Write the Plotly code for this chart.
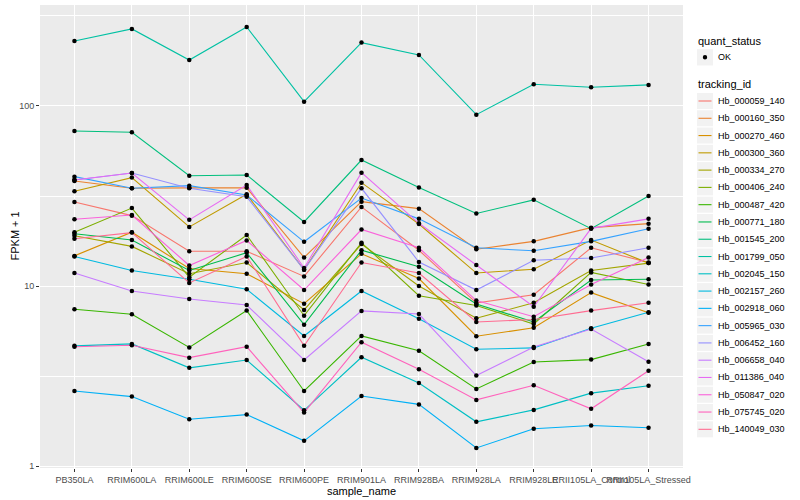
import plotly.graph_objects as go

samples = ["PB350LA", "RRIM600LA", "RRIM600LE", "RRIM600SE", "RRIM600PE",
           "RRIM901LA", "RRIM928BA", "RRIM928LA", "RRIM928LE",
           "RRII105LA_Control", "RRII105LA_Stressed"]

tracking_ids = ["Hb_000059_140", "Hb_000160_350", "Hb_000270_460", "Hb_000300_360",
                "Hb_000334_270", "Hb_000406_240", "Hb_000487_420", "Hb_000771_180",
                "Hb_001545_200", "Hb_001799_050", "Hb_002045_150", "Hb_002157_260",
                "Hb_002918_060", "Hb_005965_030", "Hb_006452_160", "Hb_006658_040",
                "Hb_011386_040", "Hb_050847_020", "Hb_075745_020", "Hb_140049_030"]

hb_000059_140 = [29.3, 24.6, 15.6, 15.6, 11.3, 27.5, 15.8, 8.05, 8.95, 16.3, 13.5]
hb_000160_350 = [38.3, 34.9, 35.1, 35.1, 14.4, 29.4, 26.9, 16.0, 17.7, 21.1, 22.2]
hb_000270_460 = [14.7, 19.9, 12.5, 11.7, 7.98, 15.1, 11.0, 5.26, 5.86, 9.19, 7.11]
hb_000300_360 = [33.6, 40.0, 21.3, 32.3, 12.3, 37.5, 22.1, 11.8, 12.4, 18.0, 13.4]
hb_000334_270 = [19.0, 16.6, 11.7, 13.5, 7.36, 17.1, 10.0, 6.62, 8.07, 12.2, 13.4]
hb_000406_240 = [19.9, 27.1, 11.2, 19.2, 6.84, 17.4, 8.83, 7.79, 6.15, 11.9, 10.2]
hb_000487_420 = [7.43, 6.97, 4.56, 7.30, 2.61, 5.28, 4.37, 2.68, 3.78, 3.90, 4.76]
hb_000771_180 = [19.5, 18.0, 12.2, 15.3, 6.10, 15.8, 12.8, 7.94, 6.31, 10.8, 10.9]
hb_001545_200 = [72.6, 71.5, 41.0, 41.4, 22.7, 50.1, 35.3, 25.3, 30.1, 20.8, 31.6]
hb_001799_050 = [229.7, 268.0, 180.0, 275.0, 105.7, 225.0, 192.0, 89.5, 132.0, 127.0, 131.0]
hb_002045_150 = [4.65, 4.77, 3.51, 3.88, 2.04, 4.02, 2.89, 1.76, 2.05, 2.54, 2.79]
hb_002157_260 = [14.6, 12.2, 10.9, 9.59, 5.28, 9.38, 6.58, 4.45, 4.53, 5.82, 7.14]
hb_002918_060 = [2.61, 2.43, 1.82, 1.93, 1.38, 2.45, 2.20, 1.26, 1.61, 1.68, 1.63]
hb_005965_030 = [40.5, 34.9, 36.1, 32.0, 17.6, 30.8, 23.6, 16.3, 15.7, 17.7, 20.8]
hb_006452_160 = [38.8, 42.4, 34.9, 31.3, 12.3, 34.9, 13.6, 9.5, 13.9, 14.3, 16.3]
hb_006658_040 = [11.8, 9.38, 8.47, 7.84, 3.88, 7.27, 6.99, 3.18, 4.58, 5.77, 3.80]
hb_011386_040 = [38.8, 42.4, 23.3, 36.4, 12.6, 42.6, 22.3, 13.1, 7.67, 20.9, 23.6]
hb_050847_020 = [23.5, 24.8, 13.0, 17.9, 9.50, 20.6, 16.3, 8.30, 6.75, 10.2, 14.4]
hb_075745_020 = [4.60, 4.69, 4.00, 4.60, 1.98, 4.87, 3.45, 2.33, 2.81, 2.08, 3.38]
hb_140049_030 = [18.3, 19.8, 10.4, 14.6, 4.65, 13.5, 11.8, 6.31, 6.52, 7.30, 8.07]

series_values = [hb_000059_140, hb_000160_350, hb_000270_460, hb_000300_360,
                 hb_000334_270, hb_000406_240, hb_000487_420, hb_000771_180,
                 hb_001545_200, hb_001799_050, hb_002045_150, hb_002157_260,
                 hb_002918_060, hb_005965_030, hb_006452_160, hb_006658_040,
                 hb_011386_040, hb_050847_020, hb_075745_020, hb_140049_030]

colors = ["#F8766D", "#EA8331", "#D89000", "#C09B00", "#A3A500", "#7CAE00",
          "#39B600", "#00BB4E", "#00BF7D", "#00C1A3", "#00BFC4", "#00BAE0",
          "#00B0F6", "#35A2FF", "#9590FF", "#C77CFF", "#E76BF3", "#FA62DB",
          "#FF62BC", "#FF6C91"]

FONT = "Liberation Sans, Arial, Helvetica, sans-serif"

# plot-area geometry in pixels (for legend / title placement)
W, H = 800, 500
ML, MR, MT, MB = 40, 117, 5, 32
PW, PH = W - ML - MR, H - MT - MB


def px(xp):
    return (xp - ML) / PW


def py(yp):
    return (H - MB - yp) / PH


fig = go.Figure()

for name, vals, col in zip(tracking_ids, series_values, colors):
    fig.add_trace(go.Scatter(
        x=samples, y=vals, mode="lines", name=name,
        line=dict(color=col, width=1.1),
        showlegend=False, hoverinfo="skip",
    ))

all_x = [s for vals in series_values for s in samples]
all_y = [v for vals in series_values for v in vals]
fig.add_trace(go.Scatter(
    x=all_x, y=all_y, mode="markers", name="OK",
    marker=dict(color="black", size=4.5), showlegend=False,
))

# custom ggplot-style legend
shapes = []
annotations = []
KEY_X0, KEY_X1 = 697, 713
TEXT_X = 716
TITLE_X = 696
annotations.append(dict(x=px(TITLE_X), y=py(40.7), xref="paper", yref="paper",
                        text="quant_status", showarrow=False, xanchor="left",
                        yanchor="middle", font=dict(size=11, color="black")))
shapes.append(dict(type="rect", xref="paper", yref="paper",
                   x0=px(KEY_X0), x1=px(KEY_X1), y0=py(49.2), y1=py(65.5),
                   fillcolor="#F2F2F2", line=dict(width=0), layer="above"))
shapes.append(dict(type="circle", xref="paper", yref="paper",
                   x0=px(702.8), x1=px(707.2), y0=py(55.1), y1=py(59.5),
                   fillcolor="black", line=dict(width=0), layer="above"))
annotations.append(dict(x=px(TEXT_X), y=py(57.3), xref="paper", yref="paper",
                        text="OK", showarrow=False, xanchor="left",
                        yanchor="middle", font=dict(size=9, color="black")))
annotations.append(dict(x=px(TITLE_X), y=py(84.3), xref="paper", yref="paper",
                        text="tracking_id", showarrow=False, xanchor="left",
                        yanchor="middle", font=dict(size=11, color="black")))
STEP = 17.28
for i, (name, col) in enumerate(zip(tracking_ids, colors)):
    yc = 101.0 + STEP * i
    shapes.append(dict(type="rect", xref="paper", yref="paper",
                       x0=px(KEY_X0), x1=px(KEY_X1), y0=py(yc - 8.0), y1=py(yc + 8.0),
                       fillcolor="#F2F2F2", line=dict(width=0), layer="above"))
    shapes.append(dict(type="line", xref="paper", yref="paper",
                       x0=px(KEY_X0 + 1.5), x1=px(KEY_X1 - 1.5), y0=py(yc), y1=py(yc),
                       line=dict(color=col, width=1.1), layer="above"))
    annotations.append(dict(x=px(TEXT_X), y=py(yc), xref="paper", yref="paper",
                            text=name, showarrow=False, xanchor="left",
                            yanchor="middle", font=dict(size=9, color="black")))

# y-axis title placed like ggplot's
annotations.append(dict(x=px(14), y=0.5, xref="paper", yref="paper",
                        text="FPKM + 1", textangle=-90, showarrow=False,
                        xanchor="center", yanchor="middle",
                        font=dict(size=11, color="black")))

fig.update_layout(
    width=W, height=H,
    margin=dict(l=ML, r=MR, t=MT, b=MB),
    paper_bgcolor="white",
    plot_bgcolor="#EBEBEB",
    font=dict(family=FONT, size=9, color="black"),
    showlegend=False,
    shapes=shapes,
    annotations=annotations,
    xaxis=dict(
        type="category", categoryorder="array", categoryarray=samples,
        range=[-0.6, 10.6], showgrid=True, gridcolor="white", gridwidth=1.1,
        ticks="outside", ticklen=3, tickcolor="#333333", tickwidth=1,
        tickangle=0, tickfont=dict(size=9, color="#4D4D4D"),
        zeroline=False, showline=False, automargin=False,
        title=dict(text="sample_name", font=dict(size=11, color="black"), standoff=2),
    ),
    yaxis=dict(
        type="log", range=[-0.011, 2.561],
        tickvals=[1, 10, 100], ticktext=["1", "10", "100"],
        showgrid=True, gridcolor="white", gridwidth=1.1,
        minor=dict(tickvals=[10 ** 0.5, 10 ** 1.5, 10 ** 2.5], showgrid=True,
                   gridcolor="white", gridwidth=0.5, ticks=""),
        ticks="outside", ticklen=3, tickcolor="#333333", tickwidth=1,
        tickfont=dict(size=9, color="#4D4D4D"),
        zeroline=False, showline=False, automargin=False,
    ),
)

fig.write_html(
    "out.html",
    config={"displayModeBar": False},
    post_script="document.body.style.margin='0px';document.body.style.overflow='hidden';",
)
